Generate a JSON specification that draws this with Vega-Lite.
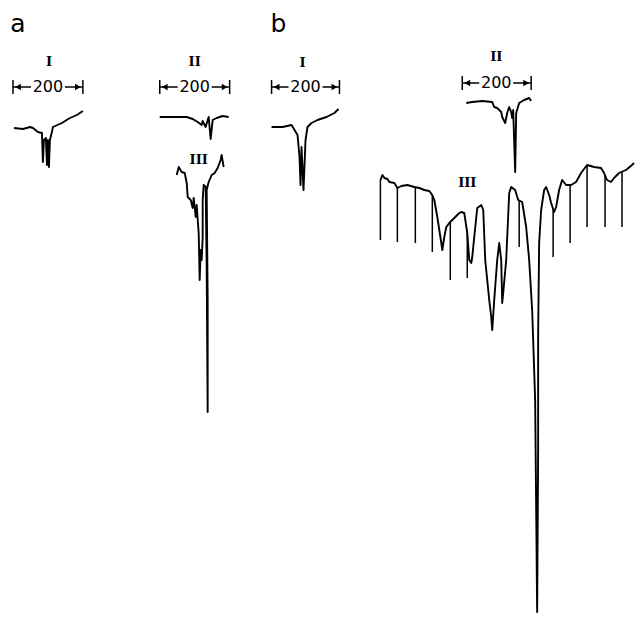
{
  "$schema": "https://vega.github.io/schema/vega-lite/v6.json",
  "width": 635,
  "height": 618,
  "autosize": {"type": "fit", "contains": "padding"},
  "padding": 0,
  "background": "white",
  "config": {"view": {"stroke": null}},
  "datasets": {
    "traces": [
      {"s":"aI","i":1,"x":14,"y":128},{"s":"aI","i":2,"x":23,"y":129},{"s":"aI","i":3,"x":30,"y":127},{"s":"aI","i":4,"x":33,"y":128},{"s":"aI","i":5,"x":38,"y":132},{"s":"aI","i":6,"x":42,"y":133},{"s":"aI","i":7,"x":43,"y":162},{"s":"aI","i":8,"x":44,"y":140},{"s":"aI","i":9,"x":46,"y":138},{"s":"aI","i":10,"x":47,"y":165},{"s":"aI","i":11,"x":48,"y":140},{"s":"aI","i":12,"x":49,"y":167},{"s":"aI","i":13,"x":50,"y":140},{"s":"aI","i":14,"x":52,"y":132},{"s":"aI","i":15,"x":53,"y":127},{"s":"aI","i":16,"x":62,"y":123},{"s":"aI","i":17,"x":70,"y":118},{"s":"aI","i":18,"x":77,"y":115},{"s":"aI","i":19,"x":83,"y":111},
      {"s":"aII","i":1,"x":160,"y":117},{"s":"aII","i":2,"x":173,"y":117},{"s":"aII","i":3,"x":187,"y":117},{"s":"aII","i":4,"x":193,"y":119},{"s":"aII","i":5,"x":198,"y":122},{"s":"aII","i":6,"x":202,"y":125},{"s":"aII","i":7,"x":203,"y":121},{"s":"aII","i":8,"x":206,"y":127},{"s":"aII","i":9,"x":208,"y":120},{"s":"aII","i":10,"x":209,"y":117},{"s":"aII","i":11,"x":211,"y":139},{"s":"aII","i":12,"x":213,"y":120},{"s":"aII","i":13,"x":217,"y":118},{"s":"aII","i":14,"x":223,"y":116},{"s":"aII","i":15,"x":229,"y":117},
      {"s":"aIII","i":1,"x":177,"y":175},{"s":"aIII","i":2,"x":179,"y":167},{"s":"aIII","i":3,"x":182,"y":172},{"s":"aIII","i":4,"x":185,"y":173},{"s":"aIII","i":5,"x":187,"y":183},{"s":"aIII","i":6,"x":188,"y":197},{"s":"aIII","i":7,"x":191,"y":200},{"s":"aIII","i":8,"x":193,"y":208},{"s":"aIII","i":9,"x":194,"y":198},{"s":"aIII","i":10,"x":196,"y":217},{"s":"aIII","i":11,"x":197,"y":205},{"s":"aIII","i":12,"x":199,"y":233},{"s":"aIII","i":13,"x":200,"y":280},{"s":"aIII","i":14,"x":201,"y":250},{"s":"aIII","i":15,"x":202,"y":260},{"s":"aIII","i":16,"x":203,"y":237},{"s":"aIII","i":17,"x":203,"y":200},{"s":"aIII","i":18,"x":204,"y":185},{"s":"aIII","i":19,"x":206,"y":187},{"s":"aIII","i":20,"x":207,"y":267},{"s":"aIII","i":21,"x":208,"y":412},{"s":"aIII","i":22,"x":208,"y":300},{"s":"aIII","i":23,"x":207,"y":190},{"s":"aIII","i":24,"x":209,"y":182},{"s":"aIII","i":25,"x":212,"y":175},{"s":"aIII","i":26,"x":215,"y":173},{"s":"aIII","i":27,"x":218,"y":168},{"s":"aIII","i":28,"x":221,"y":160},{"s":"aIII","i":29,"x":222,"y":155},{"s":"aIII","i":30,"x":224,"y":167},
      {"s":"bI","i":1,"x":272,"y":127},{"s":"bI","i":2,"x":283,"y":127},{"s":"bI","i":3,"x":292,"y":125},{"s":"bI","i":4,"x":295,"y":130},{"s":"bI","i":5,"x":298,"y":135},{"s":"bI","i":6,"x":300,"y":157},{"s":"bI","i":7,"x":301,"y":185},{"s":"bI","i":8,"x":302,"y":147},{"s":"bI","i":9,"x":304,"y":190},{"s":"bI","i":10,"x":306,"y":140},{"s":"bI","i":11,"x":308,"y":127},{"s":"bI","i":12,"x":312,"y":123},{"s":"bI","i":13,"x":318,"y":120},{"s":"bI","i":14,"x":327,"y":117},{"s":"bI","i":15,"x":335,"y":113},{"s":"bI","i":16,"x":339,"y":109},
      {"s":"bII","i":1,"x":467,"y":103},{"s":"bII","i":2,"x":473,"y":102},{"s":"bII","i":3,"x":483,"y":101},{"s":"bII","i":4,"x":493,"y":102},{"s":"bII","i":5,"x":495,"y":107},{"s":"bII","i":6,"x":498,"y":108},{"s":"bII","i":7,"x":502,"y":112},{"s":"bII","i":8,"x":503,"y":117},{"s":"bII","i":9,"x":506,"y":123},{"s":"bII","i":10,"x":508,"y":113},{"s":"bII","i":11,"x":510,"y":107},{"s":"bII","i":12,"x":512,"y":112},{"s":"bII","i":13,"x":513,"y":118},{"s":"bII","i":14,"x":514,"y":110},{"s":"bII","i":15,"x":516,"y":172},{"s":"bII","i":16,"x":517,"y":113},{"s":"bII","i":17,"x":520,"y":103},{"s":"bII","i":18,"x":525,"y":100},{"s":"bII","i":19,"x":530,"y":98},{"s":"bII","i":20,"x":532,"y":101},
      {"s":"bIII","i":1,"x":381,"y":180},{"s":"bIII","i":2,"x":383,"y":175},{"s":"bIII","i":3,"x":385,"y":178},{"s":"bIII","i":4,"x":388,"y":179},{"s":"bIII","i":5,"x":390,"y":182},{"s":"bIII","i":6,"x":395,"y":183},{"s":"bIII","i":7,"x":398,"y":188},{"s":"bIII","i":8,"x":402,"y":186},{"s":"bIII","i":9,"x":408,"y":185},{"s":"bIII","i":10,"x":415,"y":187},{"s":"bIII","i":11,"x":420,"y":188},{"s":"bIII","i":12,"x":425,"y":190},{"s":"bIII","i":13,"x":430,"y":191},{"s":"bIII","i":14,"x":433,"y":195},{"s":"bIII","i":15,"x":435,"y":200},{"s":"bIII","i":16,"x":438,"y":217},{"s":"bIII","i":17,"x":440,"y":230},{"s":"bIII","i":18,"x":442,"y":243},{"s":"bIII","i":19,"x":443,"y":250},{"s":"bIII","i":20,"x":445,"y":237},{"s":"bIII","i":21,"x":447,"y":227},{"s":"bIII","i":22,"x":450,"y":223},{"s":"bIII","i":23,"x":455,"y":218},{"s":"bIII","i":24,"x":460,"y":213},{"s":"bIII","i":25,"x":462,"y":212},{"s":"bIII","i":26,"x":465,"y":213},{"s":"bIII","i":27,"x":468,"y":233},{"s":"bIII","i":28,"x":470,"y":260},{"s":"bIII","i":29,"x":472,"y":263},{"s":"bIII","i":30,"x":473,"y":257},{"s":"bIII","i":31,"x":475,"y":237},{"s":"bIII","i":32,"x":478,"y":208},{"s":"bIII","i":33,"x":482,"y":205},{"s":"bIII","i":34,"x":484,"y":210},{"s":"bIII","i":35,"x":486,"y":260},{"s":"bIII","i":36,"x":488,"y":280},{"s":"bIII","i":37,"x":490,"y":300},{"s":"bIII","i":38,"x":492,"y":317},{"s":"bIII","i":39,"x":493,"y":330},{"s":"bIII","i":40,"x":495,"y":300},{"s":"bIII","i":41,"x":498,"y":260},{"s":"bIII","i":42,"x":500,"y":243},{"s":"bIII","i":43,"x":502,"y":260},{"s":"bIII","i":44,"x":503,"y":303},{"s":"bIII","i":45,"x":504,"y":293},{"s":"bIII","i":46,"x":507,"y":260},{"s":"bIII","i":47,"x":510,"y":193},{"s":"bIII","i":48,"x":512,"y":187},{"s":"bIII","i":49,"x":516,"y":190},{"s":"bIII","i":50,"x":519,"y":200},{"s":"bIII","i":51,"x":523,"y":202},{"s":"bIII","i":52,"x":527,"y":227},{"s":"bIII","i":53,"x":530,"y":260},{"s":"bIII","i":54,"x":533,"y":310},{"s":"bIII","i":55,"x":536,"y":400},{"s":"bIII","i":56,"x":538,"y":612},{"s":"bIII","i":57,"x":539,"y":450},{"s":"bIII","i":58,"x":539,"y":333},{"s":"bIII","i":59,"x":540,"y":243},{"s":"bIII","i":60,"x":542,"y":210},{"s":"bIII","i":61,"x":545,"y":190},{"s":"bIII","i":62,"x":547,"y":187},{"s":"bIII","i":63,"x":550,"y":195},{"s":"bIII","i":64,"x":552,"y":203},{"s":"bIII","i":65,"x":555,"y":212},{"s":"bIII","i":66,"x":557,"y":207},{"s":"bIII","i":67,"x":560,"y":190},{"s":"bIII","i":68,"x":563,"y":180},{"s":"bIII","i":69,"x":567,"y":185},{"s":"bIII","i":70,"x":572,"y":185},{"s":"bIII","i":71,"x":577,"y":182},{"s":"bIII","i":72,"x":582,"y":173},{"s":"bIII","i":73,"x":588,"y":165},{"s":"bIII","i":74,"x":595,"y":167},{"s":"bIII","i":75,"x":602,"y":168},{"s":"bIII","i":76,"x":605,"y":173},{"s":"bIII","i":77,"x":608,"y":180},{"s":"bIII","i":78,"x":612,"y":182},{"s":"bIII","i":79,"x":615,"y":178},{"s":"bIII","i":80,"x":620,"y":173},{"s":"bIII","i":81,"x":627,"y":170},{"s":"bIII","i":82,"x":633,"y":165},{"s":"bIII","i":83,"x":635,"y":163}
    ],
    "segs": [
      {"x":381,"x2":381,"y":180,"y2":240},{"x":398,"x2":398,"y":188,"y2":242},{"x":416,"x2":416,"y":187,"y2":243},{"x":433,"x2":433,"y":195,"y2":252},{"x":451,"x2":451,"y":222,"y2":280},{"x":468,"x2":468,"y":233,"y2":278},{"x":520,"x2":520,"y":201,"y2":247},{"x":554,"x2":554,"y":210,"y2":257},{"x":571,"x2":571,"y":185,"y2":243},{"x":588,"x2":588,"y":165,"y2":227},{"x":606,"x2":606,"y":175,"y2":227},{"x":623,"x2":623,"y":172,"y2":227},
      {"x":13,"x2":31,"y":87,"y2":87},{"x":65,"x2":83,"y":87,"y2":87},{"x":13,"x2":13,"y":80,"y2":94},{"x":83,"x2":83,"y":80,"y2":94},
      {"x":160,"x2":178,"y":87,"y2":87},{"x":212,"x2":230,"y":87,"y2":87},{"x":160,"x2":160,"y":80,"y2":94},{"x":230,"x2":230,"y":80,"y2":94},
      {"x":272,"x2":289,"y":87,"y2":87},{"x":323,"x2":340,"y":87,"y2":87},{"x":272,"x2":272,"y":80,"y2":94},{"x":340,"x2":340,"y":80,"y2":94},
      {"x":463,"x2":480,"y":83,"y2":83},{"x":514,"x2":532,"y":83,"y2":83},{"x":463,"x2":463,"y":76,"y2":90},{"x":532,"x2":532,"y":76,"y2":90}
    ],
    "arrows": [
      {"d":"L","x":18,"y":87},{"d":"R","x":78,"y":87},
      {"d":"L","x":165,"y":87},{"d":"R","x":225,"y":87},
      {"d":"L","x":277,"y":87},{"d":"R","x":335,"y":87},
      {"d":"L","x":468,"y":83},{"d":"R","x":527,"y":83}
    ],
    "nums": [
      {"t":"I","x":49,"y":62},{"t":"II","x":195,"y":62},{"t":"III","x":199,"y":160},
      {"t":"I","x":303,"y":63},{"t":"II","x":497,"y":57},{"t":"III","x":468,"y":183}
    ],
    "scales": [
      {"t":"200","x":48,"y":87},{"t":"200","x":195,"y":87},{"t":"200","x":306,"y":87},{"t":"200","x":497,"y":83}
    ],
    "panels": [
      {"t":"a","x":18,"y":24},{"t":"b","x":279,"y":24}
    ]
  },
  "encoding": {
    "x": {"field":"x","type":"quantitative","scale":{"domain":[0,635],"nice":false,"zero":false},"axis":null},
    "y": {"field":"y","type":"quantitative","scale":{"domain":[0,618],"nice":false,"zero":false,"reverse":true},"axis":null}
  },
  "layer": [
    {
      "data": {"name":"traces"},
      "mark": {"type":"line","color":"black","strokeWidth":1.9,"strokeJoin":"round"},
      "encoding": {"detail":{"field":"s"},"order":{"field":"i","type":"quantitative"}}
    },
    {
      "data": {"name":"segs"},
      "mark": {"type":"rule","color":"black","strokeWidth":1.5},
      "encoding": {"x2":{"field":"x2"},"y2":{"field":"y2"}}
    },
    {
      "data": {"name":"arrows"},
      "transform": [{"filter":"datum.d == 'L'"}],
      "mark": {"type":"point","shape":"triangle-left","filled":true,"color":"black","size":45,"opacity":1}
    },
    {
      "data": {"name":"arrows"},
      "transform": [{"filter":"datum.d == 'R'"}],
      "mark": {"type":"point","shape":"triangle-right","filled":true,"color":"black","size":45,"opacity":1}
    },
    {
      "data": {"name":"nums"},
      "mark": {"type":"text","font":"DejaVu Serif","fontWeight":"bold","fontSize":13,"color":"black","baseline":"middle","align":"center"},
      "encoding": {"text":{"field":"t"}}
    },
    {
      "data": {"name":"scales"},
      "mark": {"type":"text","font":"DejaVu Sans","fontSize":16,"color":"black","baseline":"middle","align":"center"},
      "encoding": {"text":{"field":"t"}}
    },
    {
      "data": {"name":"panels"},
      "mark": {"type":"text","font":"DejaVu Sans","fontSize":25,"color":"black","baseline":"middle","align":"center"},
      "encoding": {"text":{"field":"t"}}
    }
  ]
}
